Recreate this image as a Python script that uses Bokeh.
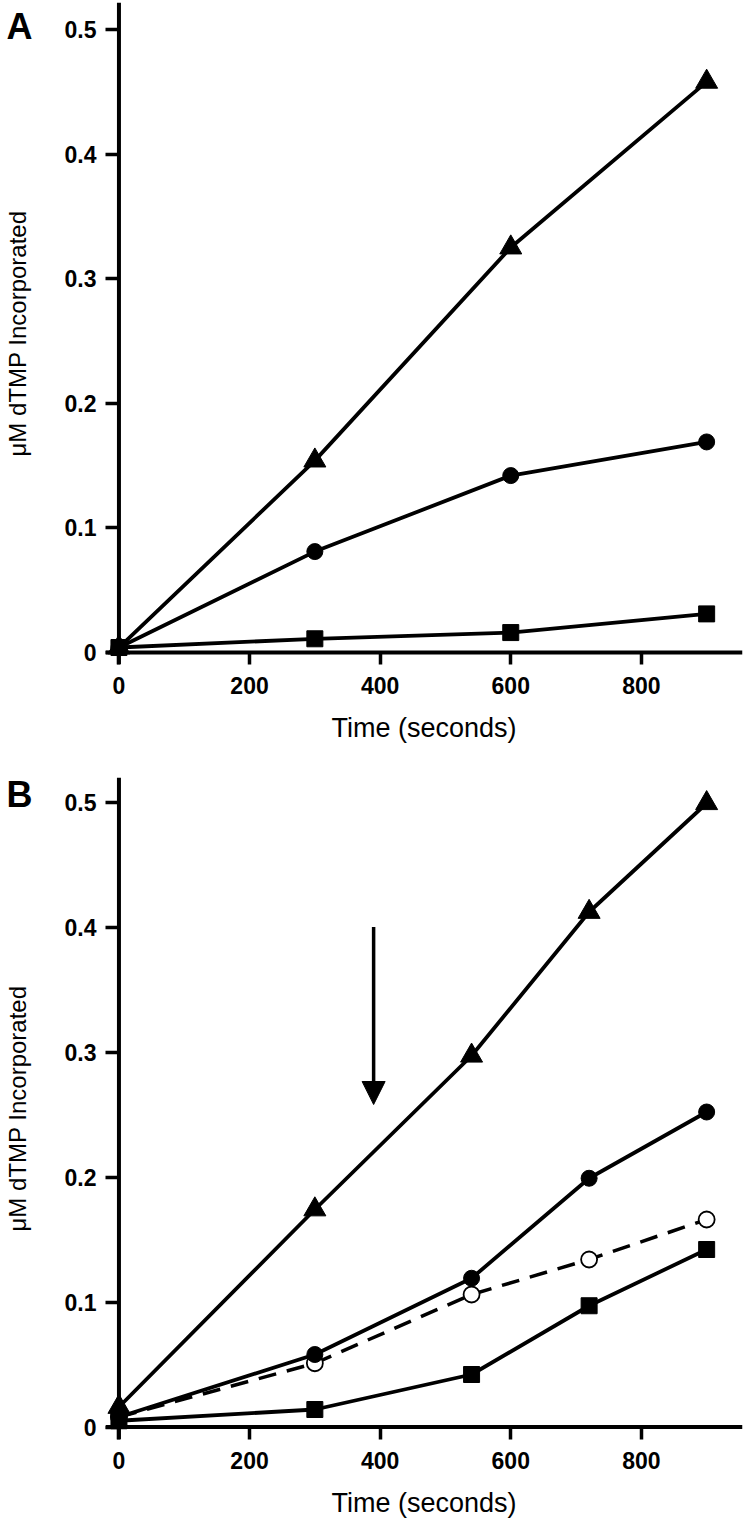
from bokeh.plotting import figure
from bokeh.layouts import column
from bokeh.models import Span, Arrow, NormalHead, FixedTicker, Range1d, LinearAxis
from bokeh.embed import file_html
from bokeh.resources import INLINE

# ---- data ----
time_a = [0, 300, 600, 900]
a_triangle = [0.004, 0.154, 0.325, 0.458]
a_circle = [0.004, 0.081, 0.142, 0.169]
a_square = [0.004, 0.011, 0.016, 0.031]

time_b = [0, 300, 540, 720, 900]
b_triangle = [0.016, 0.174, 0.297, 0.412, 0.499]
b_circle = [0.008, 0.058, 0.119, 0.199, 0.252]
b_open = [0.008, 0.051, 0.106, 0.134, 0.166]
b_square = [0.005, 0.014, 0.042, 0.097, 0.142]

x_ticks = [0, 200, 400, 600, 800]
y_ticks = [0, 0.1, 0.2, 0.3, 0.4, 0.5]
y_tick_labels = ["0", "0.1", "0.2", "0.3", "0.4", "0.5"]

arrow_time = 390
arrow_from = 0.40
arrow_to = 0.258

FONT = "Liberation Sans"


def make_panel(letter, height, border_top, y_start, y_end, letter_y):
    p = figure(width=744, height=height, output_backend="svg", toolbar_location=None,
               x_range=Range1d(-20.6, 954.9), y_range=Range1d(y_start, y_end),
               min_border_left=104, min_border_right=2, min_border_top=border_top,
               min_border_bottom=85)
    p.grid.visible = False
    p.outline_line_color = None
    p.background_fill_color = "white"
    p.border_fill_color = "white"

    for ax in (p.xaxis[0], p.yaxis[0]):
        ax.axis_line_color = None
        ax.major_tick_in = 13
        ax.major_tick_out = 0
        ax.major_tick_line_width = 3.5
        ax.major_tick_line_color = "black"
        ax.minor_tick_line_color = None
        ax.major_label_text_font = FONT
        ax.major_label_text_font_style = "bold"
        ax.major_label_text_font_size = "23px"
        ax.major_label_text_color = "black"

    p.xaxis.ticker = FixedTicker(ticks=x_ticks)
    p.xaxis.axis_label = "Time (seconds)"
    p.xaxis.axis_label_text_font = FONT
    p.xaxis.axis_label_text_font_style = "normal"
    p.xaxis.axis_label_text_color = "black"
    p.xaxis.axis_label_text_font_size = "27px"
    p.xaxis.major_label_standoff = 12
    p.xaxis.axis_label_standoff = 16

    p.yaxis.ticker = FixedTicker(ticks=y_ticks)
    p.yaxis.major_label_overrides = {t: s for t, s in zip(y_ticks, y_tick_labels)}
    p.yaxis.major_label_standoff = 9

    # outer left axis: carries the panel letter and the y title
    outer = LinearAxis(ticker=FixedTicker(ticks=[letter_y]),
                       major_label_overrides={letter_y: letter},
                       axis_line_color=None, major_tick_line_color=None,
                       minor_tick_line_color=None, major_tick_in=0, major_tick_out=0,
                       major_label_standoff=29,
                       major_label_text_font=FONT, major_label_text_font_style="bold",
                       major_label_text_font_size="36px", major_label_text_color="black",
                       axis_label="\u03bcM dTMP Incorporated", axis_label_text_font=FONT,
                       axis_label_text_font_style="normal", axis_label_text_font_size="24px",
                       axis_label_text_color="black", axis_label_standoff=-27)
    p.add_layout(outer, "left")

    p.add_layout(Span(location=0, dimension="height", line_color="black", line_width=4))
    p.add_layout(Span(location=0, dimension="width", line_color="black", line_width=4))
    return p


pA = make_panel("A", 749, 2, -0.00963, 0.5217, 0.5024)
pA.line(time_a, a_square, line_color="black", line_width=3.8)
pA.scatter(time_a, a_square, marker="square", size=16, color="black")
pA.line(time_a, a_circle, line_color="black", line_width=3.8)
pA.scatter(time_a, a_circle, marker="circle", size=16, color="black")
pA.line(time_a, a_triangle, line_color="black", line_width=3.8)
pA.scatter(time_a, a_triangle, marker="triangle", size=22, color="black")

pB = make_panel("B", 775, 28, -0.01, 0.5196, 0.506)
pB.line(time_b, b_square, line_color="black", line_width=3.8)
pB.scatter(time_b, b_square, marker="square", size=16, color="black")
pB.line(time_b, b_open, line_color="black", line_width=3.5, line_dash="18 11")
pB.scatter(time_b, b_open, marker="circle", size=16, fill_color="white",
           line_color="black", line_width=1.8)
pB.line(time_b, b_circle, line_color="black", line_width=3.8)
pB.scatter(time_b, b_circle, marker="circle", size=16, color="black")
pB.line(time_b, b_triangle, line_color="black", line_width=3.8)
pB.scatter(time_b, b_triangle, marker="triangle", size=22, color="black")
pB.add_layout(Arrow(end=NormalHead(size=23, fill_color="black", line_color="black", line_width=1),
                    x_start=arrow_time, y_start=arrow_from, x_end=arrow_time, y_end=arrow_to,
                    line_color="black", line_width=3.5))

layout = column(pA, pB)
open("out.html", "w").write(file_html(layout, INLINE))
